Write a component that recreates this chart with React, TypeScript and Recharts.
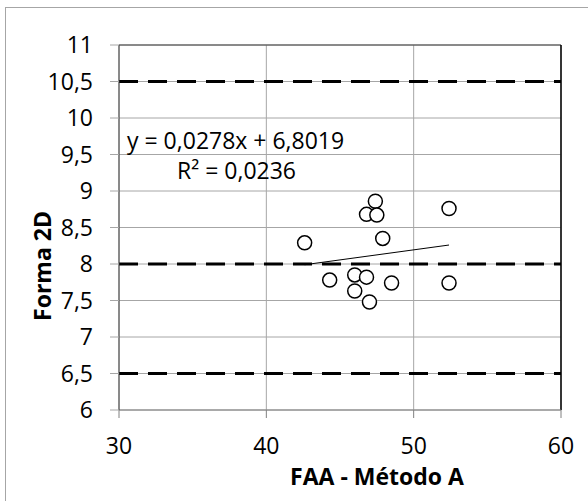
import React from "react";
import {
  ScatterChart,
  Scatter,
  XAxis,
  YAxis,
  CartesianGrid,
  ReferenceLine,
} from "recharts";

// FAA - Método A vs Forma 2D
const faaValues = [42.6, 44.3, 46.0, 46.8, 46.0, 47.0, 48.5, 52.4, 52.4, 47.4, 46.8, 47.5, 47.9];
const formaValues = [8.29, 7.78, 7.85, 7.82, 7.63, 7.48, 7.74, 7.74, 8.76, 8.86, 8.68, 8.67, 8.35];

// linear trendline endpoints (y = 0,0278x + 6,8019)
const trendX = [42.6, 52.4];
const trendY = [7.99, 8.26];

const xTicks = [30, 40, 50, 60];
const yTicks = [6, 6.5, 7, 7.5, 8, 8.5, 9, 9.5, 10, 10.5, 11];
const limitLines = [10.5, 8, 6.5];

const points = faaValues.map((x, i) => ({ x, y: formaValues[i] }));
const trend = trendX.map((x, i) => ({ x, y: trendY[i] }));

const font = "'Open Sans', sans-serif";
const comma = (v: number) => String(v).replace(".", ",");

const OpenCircle = (props: any) => {
  const { cx, cy } = props;
  return <circle cx={cx} cy={cy} r={7} fill="#fff" stroke="#000" strokeWidth={1.5} />;
};

export default function App() {
  return (
    <div
      style={{
        position: "absolute",
        left: 0,
        top: 0,
        width: 588,
        height: 501,
        overflow: "hidden",
        background: "#fff",
        fontFamily: font,
      }}
    >
      <div
        style={{
          position: "absolute",
          left: 5,
          top: 7,
          width: 620,
          height: 540,
          border: "1px solid #a6a6a6",
        }}
      />
      <div style={{ position: "absolute", left: 0, top: 0 }}>
        <ScatterChart
          width={588}
          height={501}
          margin={{ top: 45, right: 27, bottom: 31, left: 0 }}
        >
          <CartesianGrid stroke="#a6a6a6" strokeWidth={1} />
          <XAxis
            type="number"
            dataKey="x"
            domain={[30, 60]}
            ticks={xTicks}
            tickSize={8}
            tickMargin={20}
            height={60}
            stroke="#808080"
            tick={{ fill: "#000", fontSize: 23, fontFamily: font }}
          />
          <YAxis
            type="number"
            dataKey="y"
            domain={[6, 11]}
            ticks={yTicks}
            tickFormatter={comma}
            tickSize={9}
            tickMargin={17}
            width={119}
            stroke="#404040"
            tickLine={{ stroke: "#a6a6a6" }}
            tick={{ fill: "#000", fontSize: 23, fontFamily: font }}
          />
          <ReferenceLine y={11} stroke="#404040" strokeWidth={1} />
          <ReferenceLine x={60} stroke="#000" strokeWidth={1.5} />
          {limitLines.map((v) => (
            <ReferenceLine
              key={v}
              y={v}
              stroke="#000"
              strokeWidth={3}
              strokeDasharray="19 10"
            />
          ))}
          <Scatter
            data={trend}
            line={{ stroke: "#000", strokeWidth: 1 }}
            shape={() => <g />}
            isAnimationActive={false}
          />
          <Scatter data={points} shape={OpenCircle} isAnimationActive={false} />
          <text x={127} y={149} fontSize={23} fontFamily={font} fill="#000">
            y = 0,0278x + 6,8019
          </text>
          <text x={177} y={179} fontSize={23} fontFamily={font} fill="#000">
            R² = 0,0236
          </text>
          <text
            x={377}
            y={485}
            fontSize={23}
            fontWeight="bold"
            fontFamily={font}
            fill="#000"
            textAnchor="middle"
          >
            FAA - Método A
          </text>
          <text
            x={51}
            y={266}
            fontSize={23}
            fontWeight="bold"
            fontFamily={font}
            fill="#000"
            textAnchor="middle"
            transform="rotate(-90 51 266)"
          >
            Forma 2D
          </text>
        </ScatterChart>
      </div>
    </div>
  );
}
